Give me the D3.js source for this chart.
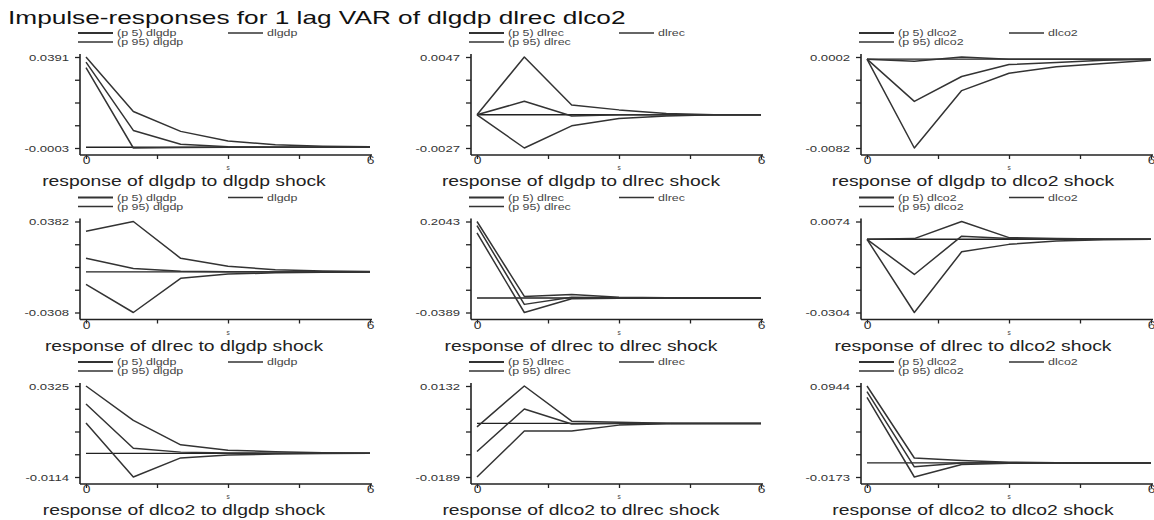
<!DOCTYPE html>
<html>
<head>
<meta charset="utf-8">
<script src="https://cdn.jsdelivr.net/npm/d3@7"></script>
<style>
  body { margin: 0; background: #fff; }
  svg { display: block; }
  text { font-family: "Liberation Sans", Arial, sans-serif; fill: #2a2a2a; }
</style>
</head>
<body>
<svg id="chart" width="1154" height="520"></svg>
<script>
// ---- data -------------------------------------------------------------
const chartTitle = "Impulse-responses for 1 lag VAR of dlgdp dlrec dlco2";
const variables = ["dlgdp", "dlrec", "dlco2"];       // response = row, impulse = column
const steps = [0, 1, 2, 3, 4, 5, 6];
const xTickValues = [0, 1.5, 3, 4.5, 6];
const xTickLabels = ["0", "", "", "", "6"];
const xAxisTitle = "s";

// panels in row-major order: (response, impulse)
const p5Values = [
  [0.0345, -0.0003, -0.0001, 0.0000, 0.0000, 0.0000, 0.0000],
  [0.0000, -0.0027, -0.0009, -0.0003, -0.0001, 0.0000, 0.0000],
  [0.0000, -0.0082, -0.0029, -0.0013, -0.0007, -0.0004, -0.0001],
  [-0.0094, -0.0308, -0.0049, -0.0017, -0.0007, -0.0002, 0.0000],
  [0.1739, -0.0389, -0.0020, -0.0010, -0.0002, 0.0000, 0.0000],
  [0.0000, -0.0304, -0.0052, -0.0021, -0.0007, -0.0002, 0.0000],
  [0.0147, -0.0114, -0.0022, -0.0008, -0.0003, -0.0001, 0.0000],
  [-0.0189, -0.0027, -0.0027, -0.0006, -0.0001, 0.0000, 0.0000],
  [0.0803, -0.0173, -0.0020, -0.0005, -0.0001, 0.0000, 0.0000]
];
const irfValues = [
  [0.0369, 0.0073, 0.0013, 0.0002, 0.0000, 0.0000, 0.0000],
  [0.0000, 0.0011, -0.0001, 0.0000, 0.0000, 0.0000, 0.0000],
  [0.0000, -0.0039, -0.0016, -0.0005, -0.0003, -0.0001, 0.0000],
  [0.0103, 0.0025, 0.0005, 0.0001, 0.0000, 0.0000, 0.0000],
  [0.1931, -0.0172, 0.0020, 0.0003, 0.0001, 0.0000, 0.0000],
  [0.0000, -0.0146, 0.0013, 0.0003, 0.0001, 0.0000, 0.0000],
  [0.0238, 0.0025, 0.0006, 0.0002, 0.0001, 0.0000, 0.0000],
  [-0.0099, 0.0051, -0.0002, 0.0000, 0.0000, 0.0000, 0.0000],
  [0.0876, -0.0048, 0.0000, 0.0002, 0.0000, 0.0000, 0.0000]
];
const p95Values = [
  [0.0391, 0.0155, 0.0069, 0.0027, 0.0011, 0.0005, 0.0002],
  [0.0000, 0.0047, 0.0008, 0.0004, 0.0001, 0.0000, 0.0000],
  [0.0000, -0.0002, 0.0002, 0.0000, 0.0000, 0.0000, 0.0000],
  [0.0308, 0.0382, 0.0103, 0.0042, 0.0017, 0.0007, 0.0002],
  [0.2043, 0.0040, 0.0090, 0.0020, 0.0005, 0.0001, 0.0000],
  [0.0000, 0.0003, 0.0074, 0.0007, 0.0003, 0.0001, 0.0000],
  [0.0325, 0.0159, 0.0041, 0.0015, 0.0008, 0.0003, 0.0001],
  [-0.0012, 0.0132, 0.0008, 0.0004, 0.0001, 0.0000, 0.0000],
  [0.0944, 0.0060, 0.0030, 0.0008, 0.0002, 0.0000, 0.0000]
];

// ---- layout -----------------------------------------------------------
const colX0 = [86, 477, 867];      // x of step 0 in each column
const plotW = 284;
const rowTop = [57, 221.5, 386];   // y of the max tick in each row
const plotH = 91;
const titleCx = [184, 581, 973];
const SX = 1.38;                   // horizontal text stretch
const lineColor = "#333";

const fmt = d3.formatLocale({ decimal: ".", thousands: ",", grouping: [3], currency: ["", ""], minus: "-" }).format(".4f");

const svg = d3.select("#chart");

function stretch(sel) {
  sel.each(function () {
    const w = this.getComputedTextLength();
    if (w > 0) {
      this.setAttribute("textLength", (w * SX).toFixed(1));
      this.setAttribute("lengthAdjust", "spacingAndGlyphs");
    }
  });
}

svg.append("text")
  .attr("x", 8).attr("y", 24)
  .attr("font-size", 19)
  .style("fill", "#111")
  .text(chartTitle)
  .call(stretch);

const lineGen = (x, y) => d3.line().x((d, i) => x(steps[i])).y(d => y(d));

for (let r = 0; r < 3; r++) {
  for (let c = 0; c < 3; c++) {
    const idx = r * 3 + c;
    const impulse = variables[c], response = variables[r];
    const lo = p5Values[idx], mid = irfValues[idx], hi = p95Values[idx];
    const all = lo.concat(mid, hi, [0]);
    const yMin = d3.min(all), yMax = d3.max(all);

    const x = d3.scaleLinear().domain([0, 6]).range([colX0[c], colX0[c] + plotW]);
    const y = d3.scaleLinear().domain([yMin, yMax]).range([rowTop[r] + plotH, rowTop[r]]);
    const axisX = colX0[c] - 6;
    const axisY = rowTop[r] + plotH + 7;

    const g = svg.append("g");

    // axis lines
    g.append("line").attr("x1", axisX).attr("x2", axisX)
      .attr("y1", rowTop[r] - 3).attr("y2", axisY)
      .attr("stroke", "#222").attr("stroke-width", 1.6);
    g.append("line").attr("x1", axisX).attr("x2", colX0[c] + plotW + 2)
      .attr("y1", axisY).attr("y2", axisY)
      .attr("stroke", "#222").attr("stroke-width", 1.6);

    // y ticks: five evenly spaced, labelled at the extremes
    const yTicks = d3.range(5).map(i => yMin + i * (yMax - yMin) / 4);
    const yAx = g.append("g").attr("transform", `translate(${axisX},0)`)
      .call(d3.axisLeft(y).tickValues(yTicks)
        .tickFormat((d, i) => (i === 0 || i === 4) ? fmt(d) : "")
        .tickSize(5).tickPadding(6));
    yAx.select(".domain").remove();
    yAx.selectAll("line").attr("stroke", "#222").attr("stroke-width", 1.3);
    yAx.selectAll("text").attr("font-size", 9.5).attr("font-family", null).style("fill", "#333").call(stretch);

    // x ticks
    const xAx = g.append("g").attr("transform", `translate(0,${axisY})`)
      .call(d3.axisBottom(x).tickValues(xTickValues)
        .tickFormat((d, i) => xTickLabels[i])
        .tickSize(4).tickPadding(-2));
    xAx.select(".domain").remove();
    xAx.selectAll("line").attr("stroke", "#222").attr("stroke-width", 1.3);
    xAx.selectAll("text").attr("font-size", 10).attr("font-family", null).style("fill", "#333").call(stretch);

    g.append("text")
      .attr("x", x(3)).attr("y", axisY + 15)
      .attr("text-anchor", "middle").attr("font-size", 6.5)
      .style("fill", "#444")
      .text(xAxisTitle);

    // zero reference line
    g.append("line")
      .attr("x1", x(0)).attr("x2", x(6))
      .attr("y1", y(0)).attr("y2", y(0))
      .attr("stroke", "#222").attr("stroke-width", 1.4);

    // response lines
    [lo, mid, hi].forEach(series => {
      g.append("path")
        .datum(series)
        .attr("d", lineGen(x, y))
        .attr("fill", "none")
        .attr("stroke", lineColor)
        .attr("stroke-width", 1.5)
        .attr("stroke-linejoin", "round");
    });

    // legend
    const legY1 = rowTop[r] - 24, legY2 = rowTop[r] - 15;
    const legendItems = [
      { label: `(p 5) ${impulse}`, dx: -8, yy: legY1, w: 1.8 },
      { label: impulse, dx: 142, yy: legY1, w: 1.4 },
      { label: `(p 95) ${impulse}`, dx: -8, yy: legY2, w: 1.3 }
    ];
    legendItems.forEach(item => {
      const lx = colX0[c] + item.dx;
      g.append("line")
        .attr("x1", lx).attr("x2", lx + 35)
        .attr("y1", item.yy).attr("y2", item.yy)
        .attr("stroke", lineColor).attr("stroke-width", item.w);
      g.append("text")
        .attr("x", lx + 39).attr("y", item.yy + 3)
        .attr("font-size", 9)
        .style("fill", "#444")
        .text(item.label)
        .call(stretch);
    });

    // panel title
    g.append("text")
      .attr("x", titleCx[c]).attr("y", rowTop[r] + 129)
      .attr("text-anchor", "middle")
      .attr("font-size", 14)
      .style("fill", "#222")
      .text(`response of ${response} to ${impulse} shock`)
      .call(stretch);
  }
}
</script>
</body>
</html>
